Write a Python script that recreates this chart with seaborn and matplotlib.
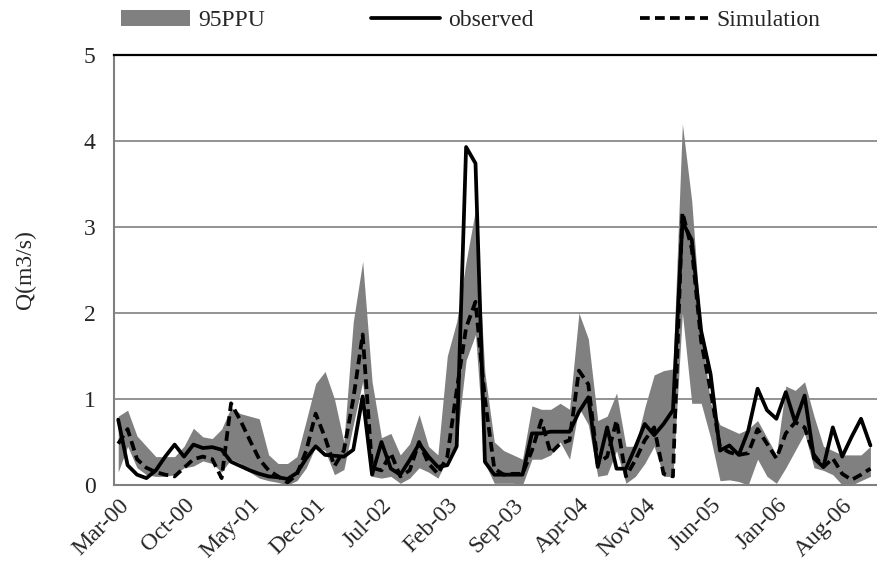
import matplotlib
matplotlib.use("Agg")
import matplotlib.pyplot as plt
import seaborn as sns
import pandas as pd
import numpy as np
from matplotlib.patches import Patch
from matplotlib.lines import Line2D

# Monthly series, Mar-2000 .. Nov-2006
observed = [0.76, 0.23, 0.12, 0.08, 0.17, 0.33, 0.47, 0.33, 0.47, 0.43,
            0.44, 0.41, 0.27, 0.22, 0.17, 0.13, 0.10, 0.09, 0.07, 0.14,
            0.31, 0.45, 0.35, 0.34, 0.33, 0.41, 1.03, 0.12, 0.50, 0.19,
            0.12, 0.29, 0.48, 0.33, 0.21, 0.23, 0.45, 3.93, 3.74, 0.27,
            0.12, 0.12, 0.12, 0.12, 0.60, 0.60, 0.62, 0.62, 0.62, 0.85,
            1.02, 0.21, 0.67, 0.19, 0.19, 0.44, 0.71, 0.58, 0.71, 0.87,
            3.06, 2.85, 1.79, 1.29, 0.40, 0.46, 0.35, 0.63, 1.12, 0.87,
            0.77, 1.08, 0.73, 1.04, 0.31, 0.21, 0.67, 0.33, 0.56, 0.77,
            0.46]
simulation = [0.48, 0.65, 0.30, 0.20, 0.15, 0.12, 0.10, 0.20, 0.30, 0.33,
              0.30, 0.08, 0.95, 0.75, 0.52, 0.30, 0.17, 0.10, 0.03, 0.12,
              0.40, 0.83, 0.55, 0.22, 0.40, 1.00, 1.75, 0.20, 0.17, 0.37,
              0.10, 0.17, 0.50, 0.25, 0.13, 0.33, 1.10, 1.83, 2.13, 1.00,
              0.19, 0.12, 0.13, 0.13, 0.40, 0.75, 0.37, 0.48, 0.52, 1.33,
              1.17, 0.25, 0.33, 0.75, 0.10, 0.29, 0.52, 0.67, 0.13, 0.10,
              3.17, 2.75, 1.67, 1.10, 0.44, 0.38, 0.35, 0.37, 0.65, 0.48,
              0.31, 0.60, 0.73, 0.67, 0.35, 0.21, 0.31, 0.13, 0.06, 0.12,
              0.19]
ppu_lower = [0.15, 0.45, 0.20, 0.12, 0.10, 0.10, 0.12, 0.20, 0.22, 0.28,
             0.25, 0.15, 0.30, 0.25, 0.15, 0.08, 0.05, 0.03, 0.00, 0.05,
             0.20, 0.45, 0.40, 0.12, 0.18, 0.70, 1.20, 0.10, 0.08, 0.10,
             0.02, 0.08, 0.20, 0.15, 0.08, 0.30, 0.50, 1.45, 1.75, 0.25,
             0.02, 0.02, 0.02, 0.00, 0.30, 0.30, 0.35, 0.50, 0.30, 0.90,
             0.70, 0.10, 0.12, 0.40, 0.02, 0.10, 0.25, 0.45, 0.10, 0.10,
             2.00, 0.95, 0.95, 0.55, 0.05, 0.06, 0.04, 0.00, 0.30, 0.10,
             0.02, 0.20, 0.40, 0.60, 0.20, 0.17, 0.12, 0.00, 0.00, 0.05,
             0.10]
ppu_upper = [0.80, 0.87, 0.57, 0.45, 0.33, 0.33, 0.33, 0.45, 0.66, 0.56,
             0.54, 0.65, 0.90, 0.83, 0.80, 0.77, 0.35, 0.25, 0.25, 0.33,
             0.75, 1.18, 1.32, 1.00, 0.50, 1.90, 2.60, 1.20, 0.55, 0.60,
             0.35, 0.48, 0.82, 0.45, 0.35, 1.50, 1.90, 2.60, 3.20, 1.30,
             0.50, 0.40, 0.35, 0.30, 0.92, 0.88, 0.88, 0.95, 0.88, 2.00,
             1.70, 0.75, 0.80, 1.07, 0.45, 0.45, 0.90, 1.28, 1.33, 1.35,
             4.20, 3.30, 1.80, 0.95, 0.70, 0.65, 0.60, 0.65, 0.75, 0.55,
             0.35, 1.15, 1.10, 1.20, 0.80, 0.45, 0.40, 0.35, 0.35, 0.35,
             0.45]
tick_labels = ["Mar-00", "Oct-00", "May-01", "Dec-01", "Jul-02", "Feb-03",
               "Sep-03", "Apr-04", "Nov-04", "Jun-05", "Jan-06", "Aug-06"]

sns.set_style("white")
plt.rcParams["font.family"] = ["Liberation Serif", "DejaVu Serif"]

n = len(observed)
df = pd.DataFrame({"month": np.arange(n), "observed": observed,
                   "simulation": simulation,
                   "lower": ppu_lower, "upper": ppu_upper})

fig = plt.figure(figsize=(8.77, 5.62), dpi=100)
ax = fig.add_axes([113.5 / 877, 1 - 485 / 562, 1 - 113.5 / 877, (485 - 55) / 562])

gray = "#808080"
dash = (2.6, 1.4)
ax.fill_between(df["month"], df["lower"], df["upper"], color=gray, lw=0,
                zorder=2)
sns.lineplot(data=df, x="month", y="observed", ax=ax, color="black",
             lw=2.7, zorder=4, legend=False)
sns.lineplot(data=df, x="month", y="simulation", ax=ax, color="black",
             lw=2.7, zorder=3, legend=False)
ax.lines[-1].set_dashes(dash)

ax.set_xlim(-0.5, 80.7)
ax.set_ylim(0, 5)
ax.set_yticks(range(0, 6))
ax.set_xticks(np.arange(0, n, 7))
ax.set_xticklabels(tick_labels, rotation=45, ha="right",
                   rotation_mode="anchor", fontsize=17)
ax.tick_params(axis="y", labelsize=17, length=5, color=gray, width=1, pad=8)
ax.tick_params(axis="x", length=0, pad=7)
ax.set_xlabel("")
ax.set_ylabel("Q(m3/s)", fontsize=17)
ax.yaxis.set_label_coords(-0.102, 0.5)
ax.grid(axis="y", color=gray, lw=1.2, zorder=1)
ax.set_axisbelow(True)

for s in ("left", "bottom"):
    ax.spines[s].set_color(gray)
    ax.spines[s].set_linewidth(1.5)
ax.spines["right"].set_visible(False)
ax.spines["top"].set_color("black")
ax.spines["top"].set_linewidth(1.6)

handles = [Patch(facecolor=gray, edgecolor="none"),
           Line2D([], [], color="black", lw=2.7),
           Line2D([], [], color="black", lw=2.7, dashes=dash)]
fig.legend(handles, ["95PPU", "observed", "Simulation"], ncol=3,
           loc="center", bbox_to_anchor=(0.537, 0.963), frameon=False,
           fontsize=17, handlelength=2.9, handletextpad=0.35,
           columnspacing=4.5, handleheight=0.65)

fig.savefig("out.png", dpi=100)
